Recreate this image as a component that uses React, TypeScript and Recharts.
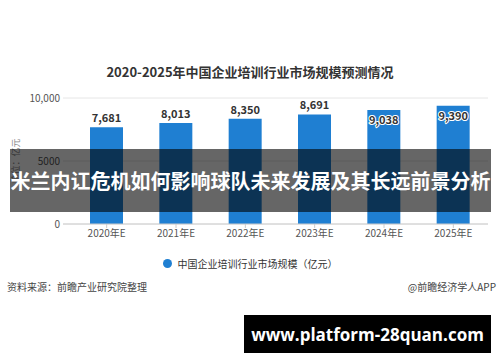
import { BarChart, Bar, XAxis, YAxis, CartesianGrid, LabelList } from 'recharts'

const years = ['2020年E', '2021年E', '2022年E', '2023年E', '2024年E', '2025年E']
const marketSize = [7681, 8013, 8350, 8691, 9038, 9390]
const yTicks = [0, 5000, 10000]
const yTickLabels = ['0', '5000', '10,000']

const data = years.map((year, i) => ({ year, value: marketSize[i] }))

const FONT = '"Noto Sans CJK SC", "Noto Sans", sans-serif'
const BLUE = '#1f7fd2'

function ValueLabel(props: any) {
  const { x, y, width, value, index } = props
  const inside = index >= 4
  const text = Number(value).toLocaleString('en-US')
  return (
    <text
      x={x + width / 2}
      y={inside ? y + 14 : y - 5}
      textAnchor="middle"
      fontSize={11}
      fontWeight="bold"
      fill="#333"
      stroke={inside ? '#fff' : 'none'}
      strokeWidth={inside ? 2 : 0}
      paintOrder="stroke"
      fontFamily={FONT}
    >
      {text}
    </text>
  )
}

function UnitLabel(props: any) {
  const vb = props.viewBox || { x: 0, y: 98, width: 63, height: 126 }
  const cx = vb.x + 15
  const cy = vb.y + vb.height / 2
  return (
    <text
      x={cx}
      y={cy}
      transform={`rotate(-90 ${cx} ${cy})`}
      textAnchor="middle"
      dominantBaseline="central"
      fontSize={9}
      fill="#888"
      fontFamily={FONT}
    >
      单位：亿元
    </text>
  )
}

export default function App() {
  return (
    <div style={{ position: 'absolute', left: 0, top: 0, width: 500, height: 362, background: '#fff', fontFamily: FONT }}>
      <div style={{ position: 'absolute', top: 62, left: 0, width: 500, textAlign: 'center', fontSize: 13, fontWeight: 'bold', color: '#333' }}>
        2020-2025年中国企业培训行业市场规模预测情况
      </div>
      <BarChart width={500} height={362} data={data} margin={{ top: 98, right: 12, bottom: 108, left: 0 }}>
        <CartesianGrid vertical={false} stroke="#e6e6e6" />
        <XAxis
          dataKey="year"
          height={30}
          padding={{ left: 9, right: 0 }}
          axisLine={{ stroke: '#cccccc' }}
          tickLine={{ stroke: '#cccccc' }}
          tickSize={4}
          tick={{ fontSize: 10, fill: '#555', fontFamily: FONT }}
        />
        <YAxis
          width={63}
          domain={[0, 10000]}
          ticks={yTicks}
          tickFormatter={(v: number) => yTickLabels[yTicks.indexOf(v)]}
          axisLine={false}
          tickLine={false}
          tickSize={0}
          tickMargin={3}
          tick={{ fontSize: 10, fill: '#555', fontFamily: FONT }}
          label={<UnitLabel />}
        />
        <Bar dataKey="value" name="中国企业培训行业市场规模（亿元）" fill={BLUE} barSize={33} isAnimationActive={false}>
          <LabelList dataKey="value" content={ValueLabel} />
        </Bar>
      </BarChart>
      <div style={{ position: 'absolute', top: 256, left: 0, width: 500, display: 'flex', justifyContent: 'center', alignItems: 'center', fontSize: 10, color: '#333' }}>
        <span style={{ display: 'inline-block', width: 9, height: 9, borderRadius: '50%', background: BLUE, marginRight: 6 }} />
        <span>中国企业培训行业市场规模（亿元）</span>
      </div>
      <div style={{ position: 'absolute', top: 279, left: 7, fontSize: 10, color: '#444' }}>资料来源：前瞻产业研究院整理</div>
      <div style={{ position: 'absolute', top: 279, right: 4, fontSize: 10, color: '#444' }}>@前瞻经济学人APP</div>
      <div
        style={{
          position: 'absolute', left: 10, top: 149, width: 481, height: 63,
          background: 'rgba(0,0,0,0.6)', color: '#fff', fontSize: 20, fontWeight: 'bold',
          display: 'flex', alignItems: 'center', justifyContent: 'center', whiteSpace: 'nowrap',
        }}
      >
        米兰内讧危机如何影响球队未来发展及其长远前景分析
      </div>
      <div
        style={{
          position: 'absolute', left: 244, top: 315, width: 247, height: 38, background: '#000',
          color: '#fff', fontSize: 17, fontWeight: 'bold', fontFamily: '"Open Sans", sans-serif',
          display: 'flex', alignItems: 'center', justifyContent: 'center',
        }}
      >
        www.platform-28quan.com
      </div>
    </div>
  )
}
